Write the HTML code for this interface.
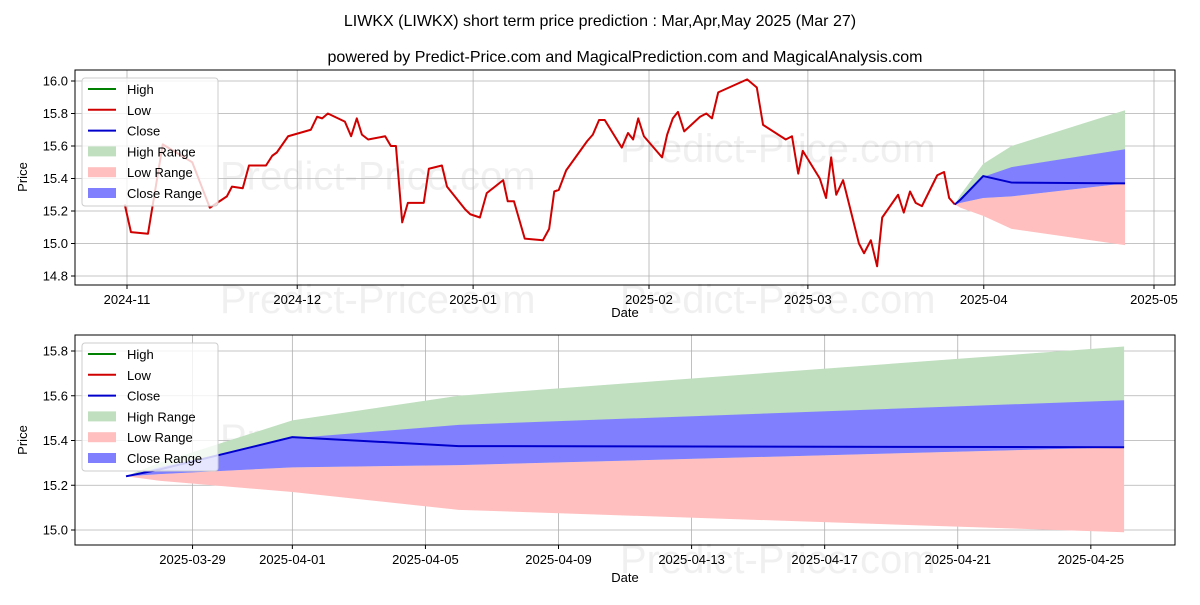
<!DOCTYPE html>
<html><head><meta charset="utf-8"><style>
body{margin:0;background:#fff}
svg{font-family:"Liberation Sans","DejaVu Sans",sans-serif}
</style></head><body>
<svg id="s" width="1200" height="600" xmlns="http://www.w3.org/2000/svg">
<text x="600" y="26" font-size="16" text-anchor="middle">LIWKX (LIWKX) short term price prediction : Mar,Apr,May 2025 (Mar 27)</text>
<text x="625" y="62" font-size="16" text-anchor="middle">powered by Predict-Price.com and MagicalPrediction.com and MagicalAnalysis.com</text>
</svg>
<script>
// historical: day offset from 2024-11-01, value
const histDays=[-0.4,0.7,3.7,6.3,11.5,14.6,17.6,18.5,20.4,21.5,24.5,25.6,26.4,28.4,31.4,32.4,33.5,34.4,35.4,38.4,39.5,40.5,41.4,42.5,45.5,46.5,47.4,48.5,49.5,52.3,53.2,55.5,56.4,59.6,60.5,62.2,63.4,66.3,67.1,68.2,70.1,73.3,74.4,75.3,76.1,77.4,81.1,82.1,83.2,84.2,87.2,88.3,89.2,90.1,91.1,94.3,95.2,96.2,97.1,98.2,101,102.1,103.1,104.2,109.3,111,112.1,116.1,117.2,118.3,119.1,122.1,123.2,124.1,125,126.2,129,129.9,131.1,132.2,133.1,135.9,136.9,138,139,140.1,142.8,144,144.9,145.9];
const histLow=[15.24,15.07,15.06,15.61,15.5,15.22,15.29,15.35,15.34,15.48,15.48,15.54,15.56,15.66,15.69,15.70,15.78,15.77,15.80,15.75,15.66,15.77,15.67,15.64,15.66,15.60,15.60,15.13,15.25,15.25,15.46,15.48,15.35,15.21,15.18,15.16,15.31,15.39,15.26,15.26,15.03,15.02,15.09,15.32,15.33,15.45,15.63,15.67,15.76,15.76,15.59,15.68,15.64,15.77,15.66,15.53,15.67,15.77,15.81,15.69,15.78,15.80,15.77,15.93,16.01,15.96,15.73,15.64,15.66,15.43,15.57,15.40,15.28,15.53,15.30,15.39,15.00,14.94,15.02,14.86,15.16,15.30,15.19,15.32,15.25,15.23,15.42,15.44,15.28,15.24];
// forecast: day offset from 2025-03-27
const fcDays=[0,1,5,10,30];
const closeV=[15.24,15.27,15.415,15.375,15.37];
const highU=[15.24,15.30,15.49,15.60,15.82];
const closeU=[15.24,15.28,15.41,15.47,15.58];
const closeL=[15.24,15.25,15.28,15.29,15.37];
const lowL=[15.24,15.22,15.17,15.09,14.99];
const topTicks=[14.8,15.0,15.2,15.4,15.6,15.8,16.0];
const botTicks=[15.0,15.2,15.4,15.6,15.8];
const topXLabels=["2024-11","2024-12","2025-01","2025-02","2025-03","2025-04","2025-05"];
const topXDays=[0,30,61,92,120,151,181];
const botXLabels=["2025-03-29","2025-04-01","2025-04-05","2025-04-09","2025-04-13","2025-04-17","2025-04-21","2025-04-25"];
const botXDays=[2,5,9,13,17,21,25,29];

const NS="http://www.w3.org/2000/svg",S=document.getElementById('s');
function mk(t,a,p){const e=document.createElementNS(NS,t);for(const k in a)e.setAttribute(k,a[k]);(p||S).appendChild(e);return e;}
function panel(o){
  const {x0,x1,y0,y1,sx,sy,ticks,xl,xd,name}=o;
  const g=mk('g',{});
  // watermark
  const wm=[[o.wm1x,(y0+y1)/2+12],[o.wm2x,y1+28]];
  wm.forEach(w=>{const t=mk('text',{x:w[0],y:w[1],'font-size':40,fill:'#000','fill-opacity':0.06},g);t.textContent='Predict-Price.com';});
  ticks.forEach(v=>{const y=sy(v);mk('line',{x1:x0,x2:x1,y1:y,y2:y,stroke:'#b0b0b0','stroke-width':0.8},g);mk('line',{x1:x0-4,x2:x0,y1:y,y2:y,stroke:'#000'},g);const t=mk('text',{x:x0-7,y:y+4.5,'font-size':13,'text-anchor':'end'},g);t.textContent=v.toFixed(1);});
  xd.forEach((d,i)=>{const x=sx(d);mk('line',{x1:x,x2:x,y1:y0,y2:y1,stroke:'#b0b0b0','stroke-width':0.8},g);mk('line',{x1:x,x2:x,y1:y1,y2:y1+4,stroke:'#000'},g);const t=mk('text',{x:x,y:y1+19,'font-size':13,'text-anchor':'middle'},g);t.textContent=xl[i];});
  return g;
}
function band(g,sx,sy,up,lo,col,nm){let d='';fcDays.forEach((t,i)=>{d+=(i?'L':'M')+sx(t)+','+sy(up[i]);});for(let i=fcDays.length-1;i>=0;i--)d+='L'+sx(fcDays[i])+','+sy(lo[i]);const p=mk('path',{d:d+'Z',fill:col,stroke:'none'},g);}
function line(g,xs,ys,sx,sy,col,nm){const p=mk('polyline',{points:xs.map((t,i)=>sx(t)+','+sy(ys[i])).join(' '),fill:'none',stroke:col,'stroke-width':2,'stroke-linejoin':'round'},g);}
function frame(g,x0,x1,y0,y1){mk('rect',{x:x0,y:y0,width:x1-x0,height:y1-y0,fill:'none',stroke:'#000','stroke-width':1},g);}
function legend(g,x,y){const r=mk('rect',{x:x,y:y,width:136,height:128,rx:3,fill:'#fff','fill-opacity':0.8,stroke:'#ccc'},g);
  const it=[['High','#008000','l'],['Low','#d00000','l'],['Close','#0000cc','l'],['High Range','#bfdfbf','b'],['Low Range','#ffbfbf','b'],['Close Range','#8080ff','b']];
  it.forEach((e,i)=>{const cy=y+11+i*20.8;if(e[2]=='l')mk('line',{x1:x+6,x2:x+34,y1:cy,y2:cy,stroke:e[1],'stroke-width':2},g);else mk('rect',{x:x+6,y:cy-5,width:28,height:10,fill:e[1]},g);const t=mk('text',{x:x+45,y:cy+5,'font-size':13},g);t.textContent=e[0];});}

// top panel
(function(){
  const x0=75,x1=1175,y0=70,y1=285;
  const sx=d=>127+d*5.674, sy=v=>81+(16.0-v)*162.5;
  const g=panel({x0,x1,y0,y1,sx,sy,ticks:topTicks,xl:topXLabels,xd:topXDays,name:'top-panel',wm1x:220,wm2x:220});
  const wm3=mk('text',{x:620,y:162,'font-size':40,fill:'#000','fill-opacity':0.06},g);wm3.textContent='Predict-Price.com';
  
  const wm4=mk('text',{x:620,y:313,'font-size':40,fill:'#000','fill-opacity':0.06},g);wm4.textContent='Predict-Price.com';
  
  const fx=d=>sx(145.9+d);
  band(g,fx,sy,highU,closeL,'#bfdfbf','high-range');
  band(g,fx,sy,closeL,lowL,'#ffbfbf','low-range');
  band(g,fx,sy,closeU,closeL,'#8080ff','close-range');
  line(g,histDays,histLow,sx,sy,'#d00000','low-line');
  line(g,fcDays,closeV,fx,sy,'#0000cc','close-line');
  frame(g,x0,x1,y0,y1);legend(g,82,78);
  const yt=mk('text',{x:27,y:177,'font-size':13,'text-anchor':'middle',transform:'rotate(-90 27 177)'},g);yt.textContent='Price';
  const xt=mk('text',{x:625,y:317,'font-size':13,'text-anchor':'middle'},g);xt.textContent='Date';
})();
// bottom panel
(function(){
  const x0=75,x1=1175,y0=335,y1=545;
  const sx=d=>126+d*33.27, sy=v=>351+(15.8-v)*223.75;
  const g=panel({x0,x1,y0,y1,sx,sy,ticks:botTicks,xl:botXLabels,xd:botXDays,name:'bottom-panel',wm1x:220,wm2x:620});
  const wm3=mk('text',{x:620,y:462,'font-size':40,fill:'#000','fill-opacity':0.06},g);wm3.textContent='Predict-Price.com';
  
  band(g,sx,sy,highU,closeL,'#bfdfbf','high-range');
  band(g,sx,sy,closeL,lowL,'#ffbfbf','low-range');
  band(g,sx,sy,closeU,closeL,'#8080ff','close-range');
  line(g,fcDays,closeV,sx,sy,'#0000cc','close-line');
  frame(g,x0,x1,y0,y1);legend(g,82,343);
  const yt=mk('text',{x:27,y:440,'font-size':13,'text-anchor':'middle',transform:'rotate(-90 27 440)'},g);yt.textContent='Price';
  const xt=mk('text',{x:625,y:582,'font-size':13,'text-anchor':'middle'},g);xt.textContent='Date';
})();
</script>
</body></html>
